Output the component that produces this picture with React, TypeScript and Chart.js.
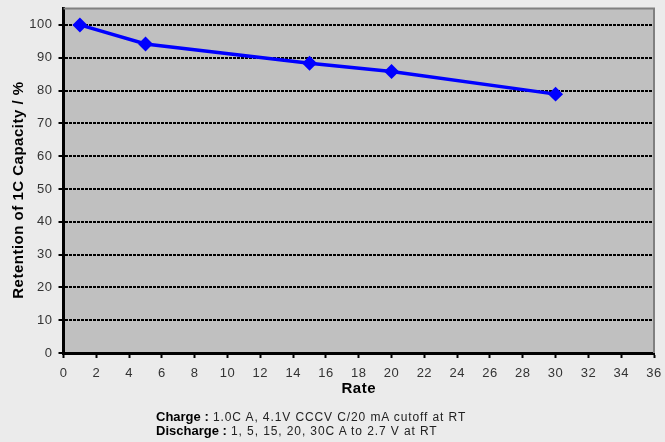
import React, { useEffect, useRef } from "react";
import { Chart, registerables } from "chart.js";

Chart.register(...registerables);

const rates = [1, 5, 15, 20, 30];
const retention = [100, 94.2, 88.3, 85.8, 78.9];
const chargeLabel = "Charge :";
const chargeText = "1.0C A, 4.1V CCCV C/20 mA cutoff at RT";
const dischargeLabel = "Discharge :";
const dischargeText = "1, 5, 15, 20, 30C A to 2.7 V at RT";

const plotBg = {
  id: "plotBg",
  beforeDraw(chart: any) {
    const { ctx, chartArea } = chart;
    ctx.fillStyle = "#C0C0C0";
    ctx.fillRect(chartArea.left, chartArea.top, chartArea.right - chartArea.left, chartArea.bottom - chartArea.top);
    (ctx as any).letterSpacing = "0.5px";
  },
  afterDraw(chart: any) {
    const { ctx, chartArea } = chart;
    ctx.save();
    ctx.strokeStyle = "#808080";
    ctx.lineWidth = 2;
    ctx.beginPath();
    ctx.moveTo(chartArea.left, chartArea.top);
    ctx.lineTo(chartArea.right, chartArea.top);
    ctx.lineTo(chartArea.right, chartArea.bottom);
    ctx.stroke();
    ctx.restore();
    (ctx as any).letterSpacing = "0px";
  },
};

export default function App() {
  const ref = useRef<HTMLCanvasElement>(null);
  useEffect(() => {
    if (!ref.current) return;
    const chart = new Chart(ref.current, {
      type: "scatter",
      data: {
        datasets: [
          {
            data: rates.map((r, i) => ({ x: r, y: retention[i] })),
            showLine: true,
            borderColor: "#0000FF",
            backgroundColor: "#0000FF",
            borderWidth: 3.5,
            pointStyle: "rectRot",
            pointRadius: 5,
          },
        ],
      },
      options: {
        animation: false,
        responsive: false,
        layout: { padding: { top: 8, right: 11, left: 0, bottom: 44 } },
        plugins: { legend: { display: false }, tooltip: { enabled: false } },
        scales: {
          x: {
            type: "linear",
            min: 0,
            max: 36,
            afterFit(scale: any) {
              scale.height = 45;
              scale.paddingLeft = 0;
              scale.paddingRight = 0;
            },
            ticks: {
              stepSize: 2,
              autoSkip: false,
              maxRotation: 0,
              color: "#333",
              padding: 8,
              font: { family: "Liberation Sans", size: 13 },
            },
            grid: {
              drawOnChartArea: false,
              tickLength: 5,
              tickColor: "#000",
              tickWidth: 2,
            },
            border: { display: true, color: "#000", width: 3 },
            title: {
              display: true,
              text: "Rate",
              color: "#000",
              padding: { top: 0, bottom: 0 },
              font: { family: "Liberation Sans", size: 15, weight: "bold" },
            },
          },
          y: {
            type: "linear",
            min: 0,
            max: 105,
            afterFit(scale: any) {
              scale.width = 63.5;
              scale.paddingTop = 0;
              scale.paddingBottom = 0;
            },
            afterBuildTicks(scale: any) {
              scale.ticks = scale.ticks.filter((t: any) => t.value <= 100);
            },
            ticks: {
              stepSize: 10,
              color: "#333",
              padding: 6,
              font: { family: "Liberation Sans", size: 13 },
            },
            grid: {
              color: "#000",
              lineWidth: 2,
              tickLength: 5,
              tickColor: "#000",
              tickWidth: 2,
            },
            border: { display: true, color: "#000", width: 3, dash: [3, 1] },
            title: {
              display: true,
              text: "Retention of 1C Capacity / %    ",
              color: "#000",
              padding: { top: 10, bottom: 0 },
              font: { family: "Liberation Sans", size: 15, weight: "bold" },
            },
          },
        },
      },
      plugins: [plotBg],
    } as any);
    return () => chart.destroy();
  }, []);

  const lineStyle: React.CSSProperties = {
    position: "absolute",
    left: 156,
    fontFamily: "Liberation Sans, Arial, sans-serif",
    fontSize: 12,
    color: "#222",
    whiteSpace: "nowrap",
    lineHeight: "14px",
  };

  return (
    <div style={{ position: "absolute", left: 0, top: 0, width: 665, height: 442, background: "#EBEBEB" }}>
      <canvas ref={ref} width={665} height={442} style={{ position: "absolute", left: 0, top: 0 }} />
      <div style={{ ...lineStyle, top: 410 }}>
        <b style={{ color: "#000", fontSize: 13 }}>{chargeLabel}</b>
        <span style={{ letterSpacing: "0.9px" }}> {chargeText}</span>
      </div>
      <div style={{ ...lineStyle, top: 424 }}>
        <b style={{ color: "#000", fontSize: 13 }}>{dischargeLabel}</b>
        <span style={{ letterSpacing: "0.9px" }}> {dischargeText}</span>
      </div>
    </div>
  );
}
